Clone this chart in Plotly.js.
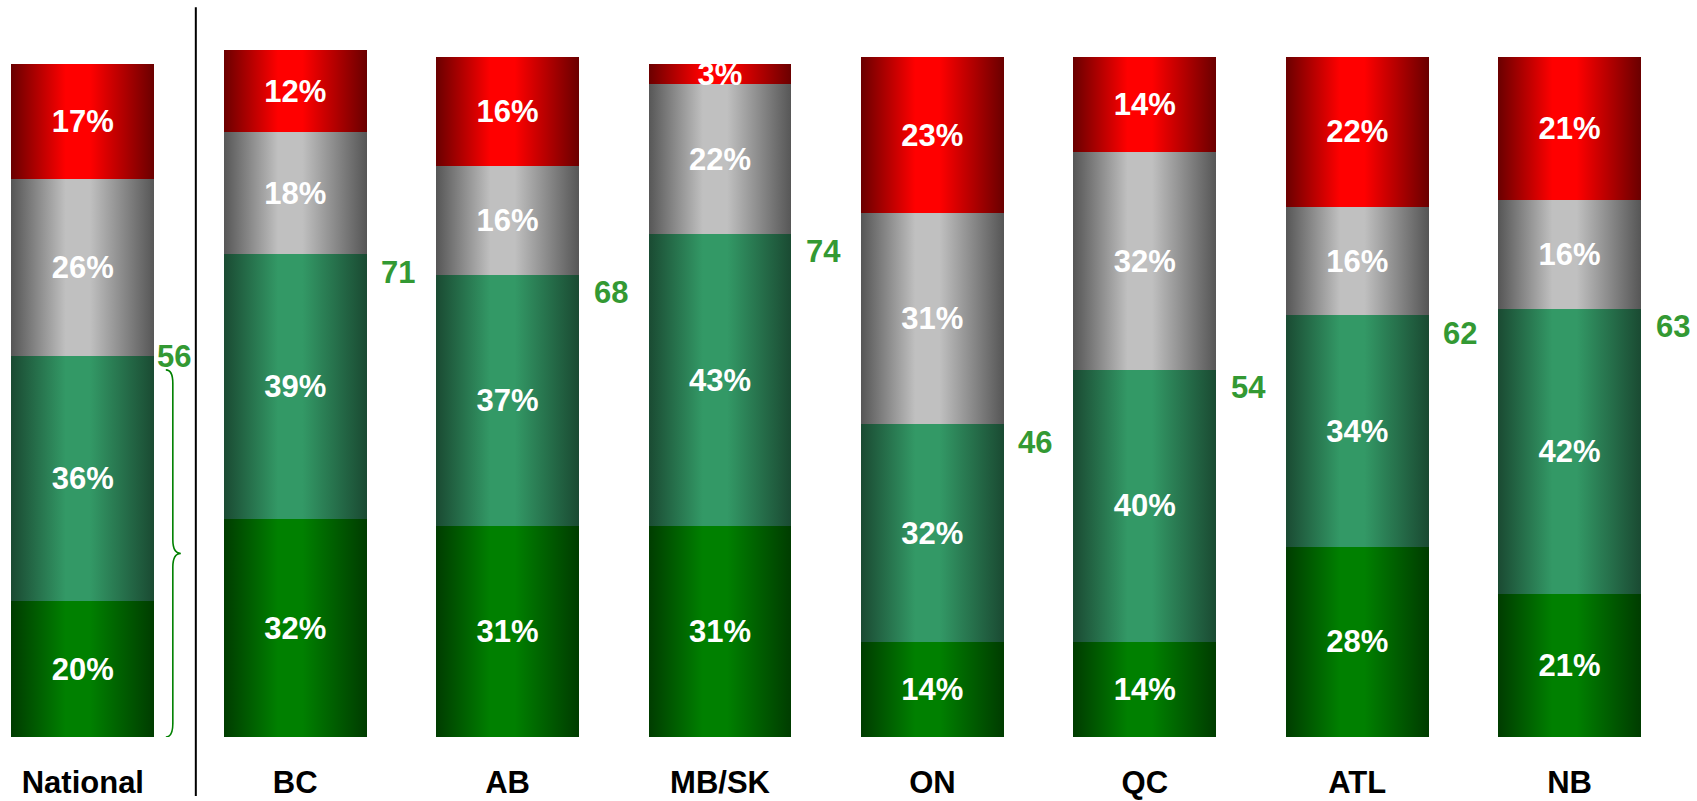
<!DOCTYPE html>
<html>
<head>
<meta charset="utf-8">
<script src="https://cdn.plot.ly/plotly-3.0.1.min.js"></script>
<style>
  html, body { margin: 0; padding: 0; background: #fff; }
  #chart { width: 1697px; height: 801px; }
</style>
</head>
<body>
<div id="chart"></div>
<script>
// === Datos ===
const regions = ['National', 'BC', 'AB', 'MB/SK', 'ON', 'QC', 'ATL', 'NB'];
const strongSupport = [20, 32, 31, 31, 14, 14, 28, 21];
const someSupport = [36, 39, 37, 43, 32, 40, 34, 42];
const neutral = [26, 18, 16, 22, 31, 32, 16, 16];
const oppose = [17, 12, 16, 3, 23, 14, 22, 21];
const totals = [56, 71, 68, 74, 46, 54, 62, 63];

// colores: [borde, centro] para el degradado horizontal
const SEG_COLORS = [
  ['#003c00', '#008000'],
  ['#1a4a32', '#339966'],
  ['#565656', '#c0c0c0'],
  ['#6a0000', '#ff0000']
];
const FONT = 'Arial, "Liberation Sans", sans-serif';
const GREEN_TXT = '#339933';

const series = [strongSupport, someSupport, neutral, oppose];

const traces = series.map((vals, k) => ({
  type: 'bar',
  x: regions,
  y: vals,
  width: 0.673,
  marker: { color: SEG_COLORS[k][1], line: { width: 0 } },
  texttemplate: '%{y}%',
  textposition: 'inside',
  insidetextanchor: 'middle',
  textangle: 0,
  constraintext: 'none',
  textfont: { family: FONT, size: 31, color: '#ffffff', weight: 'bold' },
  hoverinfo: 'skip',
  showlegend: false
}));

// === Totales en verde ===
const annotations = regions.map((r, i) => ({
  x: r,
  y: totals[i],
  xref: 'x',
  yref: 'y',
  text: String(totals[i]),
  showarrow: false,
  xanchor: 'left',
  yanchor: 'middle',
  xshift: i === 0 ? 72 : 84,
  yshift: i === 0 ? 0 : -18,
  font: { family: FONT, size: 31, color: GREEN_TXT, weight: 'bold' }
}));

// Llave para el total nacional
const T = totals[0] - 2;
const M = T / 2;
const bracePath = `M 83,${T} Q 90,${T} 90,${T - 2} L 90,${M + 2} Q 90,${M} 98,${M} ` +
  `Q 90,${M} 90,${M - 2} L 90,2 Q 90,0 83,0`;

const shapes = [
  {
    type: 'line', xref: 'x', yref: 'paper',
    x0: 0.532, x1: 0.532, y0: -0.08, y1: 0.99,
    line: { color: '#000000', width: 2 }
  },
  {
    type: 'path', xref: 'x', yref: 'y',
    xsizemode: 'pixel', xanchor: 0,
    path: bracePath,
    line: { color: '#008000', width: 1.6 }
  }
];

const layout = {
  width: 1697,
  height: 801,
  barmode: 'stack',
  margin: { l: 0, r: 0, t: 0, b: 64 },
  paper_bgcolor: '#ffffff',
  plot_bgcolor: '#ffffff',
  xaxis: {
    type: 'category',
    range: [-0.39, 7.6],
    showgrid: false,
    zeroline: false,
    showline: false,
    ticks: '',
    ticklabelstandoff: 24,
    tickfont: { family: FONT, size: 31, color: '#000000', weight: 'bold' }
  },
  yaxis: {
    range: [0, 108.4],
    visible: false,
    showgrid: false,
    zeroline: false
  },
  annotations: annotations,
  shapes: shapes
};

// === Degradado cilíndrico en las barras ===
const aplicarDegradado = (gd) => {
  const svg = gd.querySelector('.main-svg');
  const NS = 'http://www.w3.org/2000/svg';
  let defs = svg.querySelector('defs');
  if (!defs) { defs = document.createElementNS(NS, 'defs'); svg.prepend(defs); }
  SEG_COLORS.forEach((c, k) => {
    const g = document.createElementNS(NS, 'linearGradient');
    g.setAttribute('id', 'grad' + k);
    g.setAttribute('x1', '0'); g.setAttribute('x2', '1');
    g.setAttribute('y1', '0'); g.setAttribute('y2', '0');
    [[0, c[0]], [0.38, c[1]], [0.55, c[1]], [1, c[0]]].forEach(([o, col]) => {
      const s = document.createElementNS(NS, 'stop');
      s.setAttribute('offset', o);
      s.setAttribute('stop-color', col);
      g.appendChild(s);
    });
    defs.appendChild(g);
  });
  gd.querySelectorAll('.barlayer .trace').forEach((tr, k) => {
    tr.querySelectorAll('.point path').forEach(p => {
      p.style.fill = `url(#grad${k})`;
    });
  });
};

Plotly.newPlot('chart', traces, layout, { staticPlot: true }).then(aplicarDegradado);
</script>
</body>
</html>
